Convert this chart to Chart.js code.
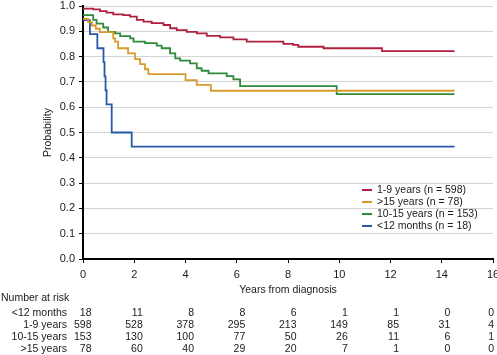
<!DOCTYPE html>
<html>
<head>
<meta charset="utf-8">
<script src="https://cdn.jsdelivr.net/npm/chart.js@4/dist/chart.umd.min.js"></script>
<style>
html,body{margin:0;padding:0;background:#fff;}
#wrap{width:497px;height:355px;position:relative;}
</style>
</head>
<body>
<div id="wrap"><canvas id="c" width="497" height="355"></canvas></div>
<script>
// ---- Data ----
const seriesNames = ['1-9 years (n = 598)', '>15 years (n = 78)', '10-15 years (n = 153)', '<12 months (n = 18)'];
const seriesColors = ['#b0203e', '#d99a2b', '#2e8a3c', '#2858a8'];

const t19 = [0, 0.4, 0.66, 0.92, 1.18, 1.57, 1.84, 2.1, 2.36, 2.68, 3.14, 3.4, 3.66, 4.05, 4.44, 4.83, 5.35, 5.87, 6.39, 7.82, 8.2, 8.4, 9.39, 11.67, 14.5];
const s19 = [0.99, 0.987, 0.98, 0.974, 0.967, 0.964, 0.958, 0.945, 0.938, 0.932, 0.925, 0.912, 0.905, 0.898, 0.892, 0.882, 0.876, 0.868, 0.859, 0.85, 0.846, 0.839, 0.833, 0.822, 0.822];

const tOver15 = [0, 0.2, 0.35, 0.5, 0.66, 1.18, 1.25, 1.37, 1.76, 2.03, 2.23, 2.42, 2.55, 4.0, 4.44, 4.99, 14.5];
const sOver15 = [0.949, 0.936, 0.923, 0.91, 0.897, 0.872, 0.859, 0.833, 0.813, 0.79, 0.77, 0.75, 0.731, 0.707, 0.688, 0.665, 0.665];

const t1015 = [0, 0.4, 0.53, 0.79, 0.98, 1.25, 1.45, 1.84, 1.97, 2.42, 2.88, 3.07, 3.4, 3.6, 3.79, 4.18, 4.44, 4.63, 4.9, 5.61, 5.87, 6.13, 9.9, 14.5];
const s1015 = [0.964, 0.945, 0.93, 0.915, 0.898, 0.892, 0.881, 0.872, 0.859, 0.853, 0.843, 0.833, 0.813, 0.793, 0.784, 0.773, 0.754, 0.744, 0.734, 0.723, 0.71, 0.683, 0.652, 0.652];

const tU12 = [0, 0.27, 0.56, 0.8, 0.84, 0.88, 0.92, 1.12, 1.9, 14.5];
const sU12 = [0.944, 0.889, 0.833, 0.778, 0.722, 0.667, 0.611, 0.5, 0.444, 0.444];

const riskTimes = [0, 2, 4, 6, 8, 10, 12, 14, 16];
const riskLabels = ['<12 months', '1-9 years', '10-15 years', '>15 years'];
const riskU12 = [18, 11, 8, 8, 6, 1, 1, 0, 0];
const risk19 = [598, 528, 378, 295, 213, 149, 85, 31, 4];
const risk1015 = [153, 130, 100, 77, 50, 26, 11, 6, 1];
const riskOver15 = [78, 60, 40, 29, 20, 7, 1, 0, 0];
const riskRows = [riskU12, risk19, risk1015, riskOver15];

const xTitle = 'Years from diagnosis';
const yTitle = 'Probability';
const riskTitle = 'Number at risk';

// ---- Helpers ----
const pts = (t, s) => t.map((v, i) => ({x: v, y: s[i]}));
const FONT = '"Liberation Sans", Arial, Helvetica, sans-serif';
const TXT = '#1a1a1a';

const seriesData = [pts(t19, s19), pts(tOver15, sOver15), pts(t1015, s1015), pts(tU12, sU12)];

const legendAndTable = {
  id: 'legendAndTable',
  afterDraw(chart) {
    const ctx = chart.ctx;
    const area = chart.chartArea;
    const xs = chart.scales.x;
    ctx.save();
    // legend
    ctx.font = '10.5px ' + FONT;
    ctx.textBaseline = 'middle';
    ctx.textAlign = 'left';
    const lx = area.right - 131;
    const ly = area.bottom - 69;
    chart.data.datasets.forEach((ds, i) => {
      const y = ly + i * 12;
      ctx.strokeStyle = ds.borderColor;
      ctx.lineWidth = 2;
      ctx.beginPath();
      ctx.moveTo(lx, y);
      ctx.lineTo(lx + 10, y);
      ctx.stroke();
      ctx.fillStyle = TXT;
      ctx.fillText(ds.label, lx + 15, y + 0.5);
    });
    // risk table
    ctx.fillStyle = TXT;
    ctx.font = '10.5px ' + FONT;
    ctx.textAlign = 'left';
    ctx.fillText(riskTitle, 1, 298);
    const rowY0 = 313.5;
    const rowH = 11.8;
    riskLabels.forEach((lab, r) => {
      const y = rowY0 + r * rowH;
      ctx.textAlign = 'right';
      ctx.fillText(lab, 67, y);
      riskRows[r].forEach((n, c) => {
        let x = xs.getPixelForValue(riskTimes[c]) + 8.5;
        x = Math.min(x, chart.width - 3);
        ctx.fillText(String(n), x, y);
      });
    });
    ctx.restore();
  }
};

new Chart(document.getElementById('c'), {
  type: 'line',
  data: {
    datasets: seriesNames.map((name, i) => ({
      label: name,
      data: seriesData[i],
      borderColor: seriesColors[i],
      backgroundColor: seriesColors[i],
      borderWidth: 1.8,
      pointRadius: 0,
      stepped: 'before',
      fill: false,
      tension: 0
    }))
  },
  options: {
    responsive: false,
    animation: false,
    devicePixelRatio: 1,
    layout: {padding: {left: 0, right: 4, top: 6, bottom: 0}},
    plugins: {legend: {display: false}, tooltip: {enabled: false}},
    scales: {
      x: {
        type: 'linear',
        min: 0, max: 16,
        ticks: {stepSize: 2, color: TXT, font: {family: FONT, size: 11}, padding: 5, maxRotation: 0},
        grid: {drawOnChartArea: false, drawTicks: true, tickLength: 4, tickColor: '#000', tickWidth: 1},
        border: {color: '#000', width: 2},
        title: {display: true, text: xTitle, color: TXT, font: {family: FONT, size: 10.5}, padding: {top: 0, bottom: 58.5}},
        afterFit(s) { s.height = 96; s.paddingLeft = 0; s.paddingRight = 0; }
      },
      y: {
        min: 0, max: 1,
        ticks: {stepSize: 0.1, color: TXT, font: {family: FONT, size: 11}, padding: 4, callback: v => Number(v).toFixed(1)},
        grid: {color: '#d4d4d4', lineWidth: 1, drawTicks: true, tickLength: 4, tickColor: '#000', tickWidth: 1},
        border: {color: '#000', width: 2},
        title: {display: true, text: yTitle, color: TXT, font: {family: FONT, size: 10.5}, padding: {top: 42, bottom: 0}},
        afterFit(s) { s.width = 83; s.paddingTop = 0; s.paddingBottom = 0; }
      }
    }
  },
  plugins: [legendAndTable]
});
</script>
</body>
</html>
